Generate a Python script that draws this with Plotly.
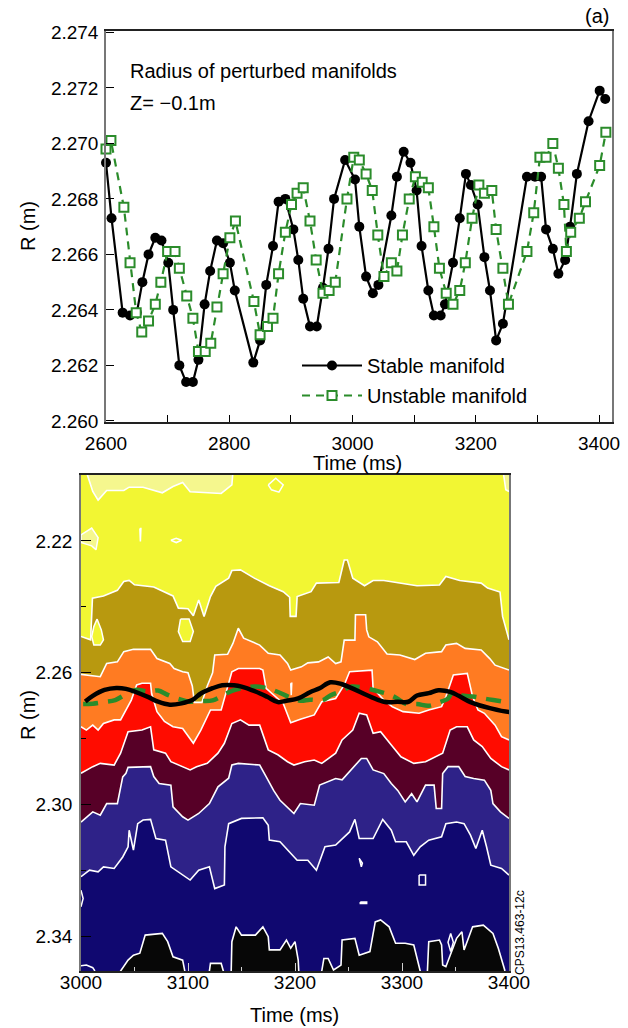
import plotly.graph_objects as go

W, H = 628, 1028
FONT = "Liberation Sans, Arial, Helvetica, sans-serif"

# ---------------- top panel data ----------------
stable_t = [2600, 2609, 2627, 2639, 2650, 2659, 2669, 2680, 2690, 2701, 2709, 2719, 2730, 2741,
            2750, 2760, 2769, 2780, 2790, 2801, 2809, 2839, 2850, 2860, 2871, 2880, 2891, 2904,
            2912, 2920, 2931, 2942, 2952, 2961, 2970, 2988, 3004, 3011, 3022, 3033, 3042, 3063,
            3072, 3083, 3094, 3104, 3112, 3123, 3132, 3143, 3150, 3163, 3174, 3184, 3192, 3203,
            3214, 3223, 3233, 3244, 3283, 3296, 3306, 3314, 3325, 3334, 3345, 3353, 3364, 3383,
            3401, 3410]
stable_r = [2.2693, 2.2673, 2.2639, 2.2638, 2.2639, 2.2650, 2.2660, 2.2666, 2.2665, 2.2657, 2.2640,
            2.2620, 2.2614, 2.2614, 2.2622, 2.2642, 2.2654, 2.2665, 2.2664, 2.2657, 2.2647, 2.2621,
            2.2629, 2.2649, 2.2663, 2.2679, 2.2680, 2.2669, 2.2658, 2.2644, 2.2634, 2.2634, 2.2648,
            2.2662, 2.2680, 2.2694, 2.2687, 2.2670, 2.2652, 2.2646, 2.2649, 2.2674, 2.2688, 2.2697,
            2.2693, 2.2683, 2.2663, 2.2647, 2.2638, 2.2638, 2.2642, 2.2657, 2.2673, 2.2689, 2.2685,
            2.2678, 2.2659, 2.2647, 2.2629, 2.2635, 2.2688, 2.2688, 2.2688, 2.2669, 2.2662, 2.2653,
            2.2658, 2.2670, 2.2689, 2.2708, 2.2719, 2.2716]

unstable_t = [2600, 2608, 2629, 2639, 2649, 2658, 2669, 2680, 2689, 2700, 2712, 2719, 2731, 2741,
              2750, 2761, 2770, 2780, 2790, 2801, 2810, 2840, 2850, 2862, 2871, 2880, 2891, 2901,
              2910, 2920, 2931, 2941, 2952, 2962, 2972, 2991, 3002, 3011, 3022, 3032, 3041, 3051,
              3063, 3072, 3081, 3092, 3102, 3113, 3123, 3132, 3141, 3152, 3163, 3174, 3183, 3194,
              3205, 3214, 3226, 3233, 3244, 3253, 3283, 3294, 3304, 3314, 3325, 3334, 3343, 3347,
              3354, 3368, 3378, 3401, 3411]
unstable_r = [2.2698, 2.2701, 2.2677, 2.2657, 2.2639, 2.2632, 2.2636, 2.2642, 2.2650, 2.2661, 2.2661,
              2.2655, 2.2645, 2.2637, 2.2625, 2.2625, 2.2628, 2.2641, 2.2653, 2.2666, 2.2672, 2.2643,
              2.2631, 2.2634, 2.2637, 2.2653, 2.2668, 2.2678, 2.2682, 2.2684, 2.2672, 2.2658, 2.2646,
              2.2647, 2.2650, 2.2680, 2.2695, 2.2694, 2.2689, 2.2683, 2.2667, 2.2652, 2.2657, 2.2654,
              2.2667, 2.2680, 2.2688, 2.2686, 2.2684, 2.2670, 2.2655, 2.2646, 2.2642, 2.2647, 2.2657,
              2.2673, 2.2685, 2.2682, 2.2683, 2.2669, 2.2655, 2.2642, 2.2661, 2.2675, 2.2695, 2.2695,
              2.2700, 2.2691, 2.2678, 2.2661, 2.2668, 2.2673, 2.2679, 2.2692, 2.2704]

top_x_ticks = [2600, 2700, 2800, 2900, 3000, 3100, 3200, 3300, 3400]
top_x_labels = ["2600", "", "2800", "", "3000", "", "3200", "", "3400"]
top_y_ticks = [2.260, 2.262, 2.264, 2.266, 2.268, 2.270, 2.272, 2.274]
top_y_labels = ["2.260", "2.262", "2.264", "2.266", "2.268", "2.270", "2.272", "2.274"]

# ---------------- bottom panel: contour band boundaries (R vs time) ----------------
b0_t = [3000, 3005, 3006, 3011, 3016, 3024, 3040, 3045, 3058, 3076, 3086, 3095, 3102, 3131, 3141,
        3142, 3143, 3394, 3395, 3397, 3400]
b0_r = [2.195, 2.195, 2.2000, 2.2050, 2.2076, 2.2047, 2.2047, 2.2037, 2.2037, 2.2054, 2.2035,
        2.2023, 2.2051, 2.2056, 2.2030, 2.2000, 2.195, 2.195, 2.2000, 2.2045, 2.2050]

b1_t = [3000, 3009, 3010.7, 3021, 3034, 3040, 3045, 3050, 3068, 3086, 3091, 3100, 3105, 3110, 3115,
        3121, 3126, 3138, 3141, 3149, 3162, 3176, 3189, 3195, 3195.5, 3201, 3202, 3215, 3220, 3241,
        3246, 3249, 3254, 3265, 3273, 3283, 3314, 3335, 3341, 3354, 3374, 3380, 3391.6, 3394, 3400]
b1_r = [2.2490, 2.2500, 2.2374, 2.2367, 2.2350, 2.2323, 2.2320, 2.2333, 2.2340, 2.2367, 2.2404,
        2.2406, 2.2427, 2.2379, 2.2429, 2.2369, 2.2338, 2.2313, 2.2290, 2.2288, 2.2313, 2.2336,
        2.2354, 2.2371, 2.2429, 2.2429, 2.2369, 2.2354, 2.2328, 2.2326, 2.2258, 2.2258, 2.2313,
        2.2336, 2.2320, 2.2320, 2.2336, 2.2334, 2.2308, 2.2320, 2.2328, 2.2343, 2.2355, 2.2429, 2.2500]

b2_t = [3000, 3010, 3018, 3024, 3034, 3040, 3049, 3065, 3071, 3083, 3087, 3095, 3100, 3104, 3106,
        3113, 3118, 3123, 3125, 3137, 3142, 3147, 3152, 3167, 3175, 3186, 3193, 3196, 3206, 3212,
        3222, 3231, 3238, 3243, 3246, 3256, 3256.5, 3266, 3267, 3269, 3277, 3286, 3298, 3312, 3322,
        3337, 3341, 3351, 3359, 3374, 3382, 3387, 3396, 3400]
b2_r = [2.2605, 2.2610, 2.2612, 2.2572, 2.2567, 2.2536, 2.2529, 2.2529, 2.2557, 2.2572, 2.2587,
        2.2597, 2.2600, 2.2640, 2.2690, 2.2690, 2.2640, 2.2600, 2.2546, 2.2544, 2.2511, 2.2465,
        2.2495, 2.2516, 2.2541, 2.2546, 2.2572, 2.2592, 2.2582, 2.2570, 2.2567, 2.2552, 2.2572,
        2.2567, 2.2501, 2.2501, 2.2424, 2.2424, 2.2470, 2.2491, 2.2506, 2.2543, 2.2546, 2.2560,
        2.2541, 2.2536, 2.2516, 2.2511, 2.2526, 2.2531, 2.2557, 2.2577, 2.2587, 2.2592]

b3_t = [3000, 3005, 3011, 3016, 3021, 3031, 3037, 3047, 3052, 3057, 3065, 3066, 3071, 3078, 3086,
        3095, 3105, 3112, 3121, 3131, 3141, 3147, 3167, 3170, 3173, 3184, 3189, 3196, 3205, 3218,
        3225, 3238, 3246, 3251, 3272, 3273, 3283, 3291, 3301, 3316, 3325, 3337, 3341, 3348, 3361,
        3366, 3371, 3377, 3387, 3393, 3400]
b3_r = [2.2764, 2.2774, 2.2759, 2.2774, 2.2754, 2.2743, 2.2743, 2.2683, 2.2637, 2.2632, 2.2632,
        2.2663, 2.2718, 2.2748, 2.2764, 2.2769, 2.2814, 2.2774, 2.2713, 2.2713, 2.2597, 2.2587,
        2.2587, 2.2592, 2.2647, 2.2678, 2.2693, 2.2752, 2.2741, 2.2728, 2.2688, 2.2678, 2.2637,
        2.2597, 2.2592, 2.2647, 2.2683, 2.2703, 2.2718, 2.2723, 2.2713, 2.2703, 2.2673, 2.2607,
        2.2602, 2.2673, 2.2713, 2.2723, 2.2759, 2.2794, 2.2804]

b4_t = [3000, 3011, 3018, 3031, 3037, 3044, 3057, 3065, 3068, 3079, 3084, 3094, 3102, 3108, 3118,
        3128, 3134, 3141, 3149, 3157, 3167, 3175, 3184, 3193, 3199, 3209, 3218, 3225, 3238, 3244,
        3254, 3260, 3267, 3273, 3280, 3290, 3299, 3311, 3322, 3338, 3345, 3351, 3361, 3367, 3375,
        3383, 3393, 3400]
b4_r = [2.2905, 2.2885, 2.2875, 2.2880, 2.2844, 2.2779, 2.2774, 2.2764, 2.2834, 2.2844, 2.2870,
        2.2885, 2.2895, 2.2885, 2.2875, 2.2844, 2.2814, 2.2754, 2.2743, 2.2759, 2.2759, 2.2834,
        2.2849, 2.2870, 2.2880, 2.2870, 2.2865, 2.2875, 2.2844, 2.2804, 2.2774, 2.2723, 2.2728,
        2.2784, 2.2779, 2.2819, 2.2855, 2.2875, 2.2870, 2.2844, 2.2774, 2.2764, 2.2764, 2.2804,
        2.2824, 2.2860, 2.2885, 2.2895]

b5_t = [3000, 3011, 3018, 3024, 3034, 3039, 3042, 3044, 3065, 3068, 3073, 3084, 3086, 3095, 3100,
        3110, 3120, 3128, 3138, 3141, 3147, 3167, 3173, 3180, 3186, 3193, 3199, 3205, 3218, 3223,
        3238, 3244, 3254, 3262, 3267, 3273, 3283, 3290, 3296, 3303, 3309, 3314, 3322, 3330, 3332,
        3337, 3338, 3343, 3353, 3359, 3367, 3377, 3383, 3385, 3392, 3400]
b5_r = [2.3053, 2.3022, 2.3032, 2.2997, 2.2997, 2.2916, 2.2905, 2.2887, 2.2885, 2.2915, 2.2936,
        2.2941, 2.3007, 2.3037, 2.3047, 2.3027, 2.2997, 2.2946, 2.2920, 2.2880, 2.2875, 2.2880,
        2.2915, 2.2957, 2.2987, 2.3007, 2.3027, 2.2997, 2.3002, 2.2941, 2.2921, 2.2925, 2.2890,
        2.2860, 2.2860, 2.2895, 2.2906, 2.2936, 2.2957, 2.2992, 2.2967, 2.2992, 2.2941, 2.2941,
        2.3012, 2.3012, 2.2906, 2.2885, 2.2885, 2.2915, 2.2921, 2.2926, 2.2957, 2.2997, 2.3022, 2.3042]

b6_t = [3000, 3008, 3016, 3021, 3031, 3039, 3044, 3045, 3049, 3053, 3058, 3065, 3070, 3079, 3084,
        3095, 3102, 3110, 3120, 3125, 3134, 3134.5, 3138, 3150, 3170, 3175, 3176, 3186, 3193, 3202,
        3212, 3220, 3228, 3238, 3251, 3256, 3260, 3273, 3282, 3290, 3294, 3304, 3311, 3317, 3325,
        3337, 3341, 3351, 3358, 3364, 3369, 3375, 3379, 3383, 3393, 3400]
b6_r = [2.3219, 2.3199, 2.3204, 2.3189, 2.3194, 2.3159, 2.3128, 2.3078, 2.3138, 2.3058, 2.3047,
        2.3045, 2.3103, 2.3108, 2.3189, 2.3214, 2.3229, 2.3199, 2.3189, 2.3255, 2.3244, 2.3128,
        2.3058, 2.3042, 2.3040, 2.3063, 2.3108, 2.3113, 2.3138, 2.3169, 2.3169, 2.3199, 2.3128,
        2.3123, 2.3083, 2.3045, 2.3103, 2.3103, 2.3045, 2.3078, 2.3113, 2.3113, 2.3154, 2.3128,
        2.3108, 2.3098, 2.3058, 2.3053, 2.3058, 2.3093, 2.3133, 2.3078, 2.3128, 2.3184, 2.3194, 2.3214]

b7_t = [3000, 3036, 3037, 3044, 3049, 3055, 3060, 3076, 3081, 3086, 3095, 3097, 3098, 3119, 3120,
        3121, 3131, 3133, 3134, 3140, 3141, 3145, 3150, 3163, 3170, 3175, 3176, 3186, 3192, 3196,
        3200, 3203, 3203.5, 3204, 3224, 3225, 3227, 3231, 3236, 3243, 3244, 3256, 3260, 3270, 3275,
        3280, 3288, 3294, 3303, 3311, 3317, 3319, 3323, 3324, 3325, 3335, 3337, 3338, 3341, 3351,
        3356, 3358, 3366, 3376, 3385, 3390, 3396, 3397, 3400]
b7_r = [2.356, 2.356, 2.3505, 2.3472, 2.3457, 2.3451, 2.3396, 2.3391, 2.3416, 2.3462, 2.3472,
        2.3505, 2.356, 2.356, 2.3505, 2.3482, 2.3482, 2.3505, 2.356, 2.356, 2.3416, 2.3371, 2.3396,
        2.3396, 2.3371, 2.3401, 2.3441, 2.3441, 2.3411, 2.3436, 2.3416, 2.3472, 2.3505, 2.356,
        2.356, 2.3505, 2.3467, 2.3467, 2.3502, 2.3487, 2.3411, 2.3406, 2.3457, 2.3446, 2.3356,
        2.3350, 2.3371, 2.3421, 2.3421, 2.3426, 2.3505, 2.356, 2.356, 2.3505, 2.3416, 2.3411,
        2.3426, 2.3487, 2.3492, 2.3406, 2.3386, 2.3441, 2.3371, 2.3366, 2.3391, 2.3436, 2.3502,
        2.356, 2.356]

# small closed contour islands: (t list, R list)
isl_lightyellow_t = [3000, 3010, 3016, 3014, 3010, 3000]
isl_lightyellow_r = [2.2182, 2.2161, 2.2190, 2.2227, 2.2215, 2.2205]
isl_yellow1_t = [3015, 3019, 3021, 3018, 3012, 3010, 3012]
isl_yellow1_r = [2.2437, 2.2470, 2.2500, 2.2516, 2.2516, 2.2490, 2.2460]
isl_yellow2_t = [3093, 3101, 3105, 3102, 3095, 3091]
isl_yellow2_r = [2.2437, 2.2437, 2.2475, 2.2505, 2.2505, 2.2475]
isl_navy_t = [3345.5, 3348, 3345.5, 3343]
isl_navy_r = [2.3391, 2.3418, 2.3446, 2.3418]
loop_a_t = [3175, 3182, 3189, 3185, 3178, 3175]
loop_a_r = [2.2030, 2.2010, 2.2030, 2.2052, 2.2045, 2.2030]
loop_b_t = [3055, 3056, 3055.5, 3055]
loop_b_r = [2.2162, 2.2162, 2.2202, 2.2162]
loop_c_t = [3084, 3089, 3094, 3089, 3084]
loop_c_r = [2.2198, 2.2192, 2.2198, 2.2205, 2.2198]
loop_d_t = [3260, 3263, 3262, 3260]
loop_d_r = [2.3163, 2.3178, 2.3189, 2.3163]
loop_e_t = [3316, 3322, 3322, 3316, 3316]
loop_e_r = [2.3214, 2.3214, 2.3244, 2.3244, 2.3214]
loop_f_t = [3261, 3267, 3267, 3261, 3261]
loop_f_r = [2.3296, 2.3296, 2.3300, 2.3300, 2.3296]
loop_g_t = [3000, 3002, 3000]
loop_g_r = [2.3260, 2.3285, 2.3310]
loop_h_t = [3000, 3005, 3011, 3013]
loop_h_r = [2.3489, 2.3487, 2.3495, 2.3505]
loop_i_t = [3196, 3197, 3196.5, 3196]
loop_i_r = [2.2632, 2.2632, 2.2668, 2.2632]

bounds = [(b0_t, b0_r), (b1_t, b1_r), (b2_t, b2_r), (b3_t, b3_r),
          (b4_t, b4_r), (b5_t, b5_r), (b6_t, b6_r), (b7_t, b7_r)]

C_LIGHT = "#f5f78e"
C_YEL = "#f2f633"
C_OLIVE = "#b8990f"
C_ORANGE = "#ff7b22"
C_RED = "#ff0c00"
C_MAROON = "#570027"
C_BLUE = "#2e2288"
C_NAVY = "#100870"
C_BLACK = "#070707"
band_below = [C_YEL, C_OLIVE, C_ORANGE, C_RED, C_MAROON, C_BLUE, C_NAVY, C_BLACK]

GREEN = "#2b8c2b"

fig = go.Figure()

# ---------------- top panel ----------------
fig.add_trace(go.Scatter(
    x=stable_t, y=stable_r, mode="lines+markers", name="Stable manifold",
    line=dict(color="black", width=2.2),
    marker=dict(symbol="circle", size=10, color="black"),
    cliponaxis=False, xaxis="x", yaxis="y", legendgroup="a"))
fig.add_trace(go.Scatter(
    x=unstable_t, y=unstable_r, mode="lines+markers", name="Unstable manifold",
    line=dict(color=GREEN, width=2.2, dash="8px,6px"),
    marker=dict(symbol="square", size=9, color="white", line=dict(color=GREEN, width=2)),
    cliponaxis=False, xaxis="x", yaxis="y", legendgroup="b"))

# ---------------- bottom panel ----------------
BOT = 2.37
for (bt, br), col in zip(bounds, band_below):
    fig.add_trace(go.Scatter(
        x=list(bt) + [3400, 3000], y=list(br) + [BOT, BOT], mode="lines",
        fill="toself", fillcolor=col, line=dict(width=0), hoverinfo="skip",
        showlegend=False, xaxis="x2", yaxis="y2"))

for it, ir, col in [(isl_lightyellow_t, isl_lightyellow_r, C_LIGHT),
                    (isl_yellow1_t, isl_yellow1_r, C_YEL),
                    (isl_yellow2_t, isl_yellow2_r, C_YEL),
                    (isl_navy_t, isl_navy_r, C_NAVY)]:
    fig.add_trace(go.Scatter(
        x=it + [it[0]], y=ir + [ir[0]], mode="lines", fill="toself", fillcolor=col,
        line=dict(color="white", width=1.5), hoverinfo="skip", showlegend=False,
        xaxis="x2", yaxis="y2"))

for bt, br in bounds:
    fig.add_trace(go.Scatter(
        x=bt, y=br, mode="lines", line=dict(color="white", width=1.6),
        hoverinfo="skip", showlegend=False, xaxis="x2", yaxis="y2"))

for lt, lr in [(loop_a_t, loop_a_r), (loop_b_t, loop_b_r), (loop_c_t, loop_c_r),
               (loop_d_t, loop_d_r), (loop_e_t, loop_e_r), (loop_f_t, loop_f_r),
               (loop_g_t, loop_g_r), (loop_h_t, loop_h_r), (loop_i_t, loop_i_r)]:
    fig.add_trace(go.Scatter(
        x=lt, y=lr, mode="lines", line=dict(color="white", width=1.5),
        hoverinfo="skip", showlegend=False, xaxis="x2", yaxis="y2"))

# manifold overlays on the contour panel (same data, t >= 3000)
ov_st = [t for t in stable_t if t >= 3000]
ov_sr = [r for t, r in zip(stable_t, stable_r) if t >= 3000]
ov_ut = [t for t in unstable_t if t >= 3000]
ov_ur = [r for t, r in zip(unstable_t, unstable_r) if t >= 3000]
fig.add_trace(go.Scatter(
    x=ov_ut, y=ov_ur, mode="lines",
    line=dict(color=GREEN, width=4.5, dash="15px,10px", shape="spline", smoothing=1.0),
    hoverinfo="skip", showlegend=False, xaxis="x2", yaxis="y2"))
fig.add_trace(go.Scatter(
    x=ov_st, y=ov_sr, mode="lines",
    line=dict(color="black", width=4.5, shape="spline", smoothing=1.0),
    hoverinfo="skip", showlegend=False, xaxis="x2", yaxis="y2"))


def px_x(p):
    return p / W


def px_y(p):
    return 1 - p / H


tick_font = dict(family=FONT, size=19, color="black")
text_font = dict(family=FONT, size=20, color="black")

fig.update_layout(
    width=W, height=H,
    margin=dict(l=0, r=0, t=0, b=0),
    paper_bgcolor="white",
    plot_bgcolor="white",
    font=text_font,
    showlegend=True,
    legend=dict(x=px_x(297), y=px_y(346), xanchor="left", yanchor="top",
                bgcolor="rgba(0,0,0,0)", font=text_font, itemwidth=60,
                tracegroupgap=1),
    xaxis=dict(domain=[px_x(106), px_x(612)], range=[2600, 3421], anchor="y", automargin=False,
               tickvals=top_x_ticks, ticktext=top_x_labels, ticks="inside", ticklen=7,
               tickcolor="black", tickwidth=1.2, showline=True, linecolor="#222", linewidth=1.5,
               mirror=True, showgrid=False, zeroline=False, tickfont=tick_font,
               ticklabelstandoff=3),
    yaxis=dict(domain=[px_y(422), px_y(31)], range=[2.25996, 2.27405], anchor="x", automargin=False,
               tickvals=top_y_ticks, ticktext=top_y_labels, ticks="inside", ticklen=8,
               tickcolor="black", tickwidth=1.2, showline=True, linecolor="#777", linewidth=1.5,
               mirror=True, showgrid=False, zeroline=False, tickfont=tick_font,
               ticklabelstandoff=2),
    xaxis2=dict(domain=[px_x(81), px_x(509)], range=[3000, 3400], anchor="y2", automargin=False,
                tickvals=[3000, 3100, 3200, 3300, 3400], ticks="inside", ticklen=8,
                tickcolor="#d0d0d0", tickwidth=1.2,
                minor=dict(tickvals=[3050, 3150, 3250, 3350], ticks="inside", ticklen=4,
                           tickcolor="#d0d0d0", tickwidth=1.2),
                showline=True, linecolor="#222", linewidth=1.5, mirror=True,
                showgrid=False, zeroline=False, tickfont=tick_font, ticklabelstandoff=-7),
    yaxis2=dict(domain=[px_y(971), px_y(475)], range=[2.3505, 2.2], anchor="x2", automargin=False,
                tickvals=[2.22, 2.26, 2.30, 2.34], ticktext=["2.22", "2.26", "2.30", "2.34"],
                ticks="inside", ticklen=10, tickcolor="black", tickwidth=1.2,
                minor=dict(tickvals=[2.24, 2.28, 2.32], ticks="inside", ticklen=5,
                           tickcolor="black", tickwidth=1.2),
                showline=True, linecolor="#777", linewidth=1.5, mirror=True,
                showgrid=False, zeroline=False, tickfont=tick_font, ticklabelstandoff=3),
    shapes=[dict(type="rect", xref="x2 domain", yref="y2 domain", x0=0, x1=1, y0=0, y1=1,
                 fillcolor=C_LIGHT, line=dict(width=0), layer="below")],
)

ann = [
    dict(text="(a)", x=px_x(597), y=px_y(16), xanchor="center", yanchor="middle"),
    dict(text="Radius of perturbed manifolds", x=px_x(128), y=px_y(71), xanchor="left", yanchor="middle"),
    dict(text="Z= \u22120.1m", x=px_x(128), y=px_y(103), xanchor="left", yanchor="middle"),
    dict(text="R (m)", x=px_x(28), y=px_y(226), xanchor="center", yanchor="middle", textangle=-90),
    dict(text="Time (ms)", x=px_x(357), y=px_y(463), xanchor="center", yanchor="middle"),
    dict(text="R (m)", x=px_x(28), y=px_y(715), xanchor="center", yanchor="middle", textangle=-90),
    dict(text="Time (ms)", x=px_x(294), y=px_y(1015), xanchor="center", yanchor="middle"),
    dict(text="CPS13.463-12c", x=px_x(520), y=px_y(933), xanchor="center", yanchor="middle",
         textangle=-90, font=dict(family=FONT, size=12, color="black")),
]
for a in ann:
    a.setdefault("font", text_font)
    fig.add_annotation(xref="paper", yref="paper", showarrow=False, **a)

fig.write_html("out.html", config={"displayModeBar": False})
